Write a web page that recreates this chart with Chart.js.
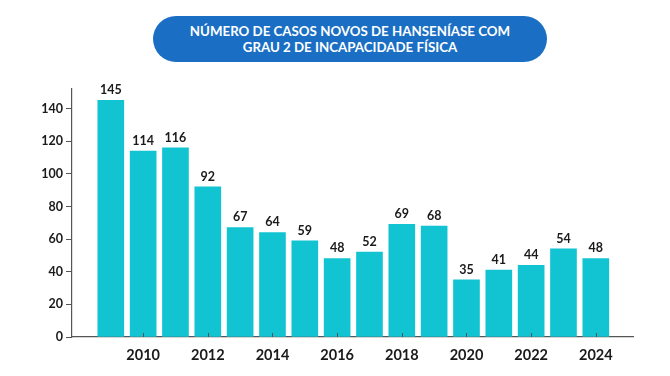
<!DOCTYPE html>
<html>
<head>
<meta charset="utf-8">
<script src="https://cdn.jsdelivr.net/npm/chart.js@4/dist/chart.umd.min.js"></script>
<style>
  html, body { margin: 0; padding: 0; background: #ffffff; }
  #wrap { position: relative; width: 670px; height: 376px; }
  #title {
    position: absolute; left: 153px; top: 16px; width: 394px; height: 46px;
    background: #1a6fc4; border-radius: 23px; color: #ffffff;
    font-family: Lato, "Open Sans", sans-serif; font-weight: 700; font-size: 13.3px;
    line-height: 16px; text-align: center; display: flex; align-items: center; justify-content: center;
  }
  canvas { position: absolute; left: 0; top: 0; }
</style>
</head>
<body>
<div id="wrap">
  <canvas id="c" width="670" height="376"></canvas>
  <div id="title">NÚMERO DE CASOS NOVOS DE HANSENÍASE COM<br>GRAU 2 DE INCAPACIDADE FÍSICA</div>
</div>
<script>
const years = [2009, 2010, 2011, 2012, 2013, 2014, 2015, 2016, 2017, 2018, 2019, 2020, 2021, 2022, 2023, 2024];
const cases = [145, 114, 116, 92, 67, 64, 59, 48, 52, 69, 68, 35, 41, 44, 54, 48];
const xTickYears = [2010, 2012, 2014, 2016, 2018, 2020, 2022, 2024];
const yTicks = [0, 20, 40, 60, 80, 100, 120, 140];

const FONT = 'Lato, "Open Sans", sans-serif';
const BAR = '#12c4d2';
const AXIS = '#555555';

const valueLabels = {
  id: 'valueLabels',
  afterDatasetsDraw(chart) {
    const ctx = chart.ctx;
    const meta = chart.getDatasetMeta(0);
    ctx.save();
    ctx.font = '700 12.5px ' + FONT;
    ctx.fillStyle = '#1a1a1a';
    ctx.textAlign = 'center';
    ctx.textBaseline = 'bottom';
    meta.data.forEach((el, i) => {
      ctx.fillText(String(cases[i]), el.x, el.y - 4);
    });
    ctx.restore();
  }
};

const axisMarks = {
  id: 'axisMarks',
  afterDraw(chart) {
    const ctx = chart.ctx;
    const xs = chart.scales.x;
    const bottom = chart.chartArea.bottom;
    ctx.save();
    ctx.strokeStyle = AXIS;
    ctx.lineWidth = 1;
    xTickYears.forEach(y => {
      const px = Math.round(xs.getPixelForValue(y)) + 0.5;
      ctx.beginPath();
      ctx.moveTo(px, bottom);
      ctx.lineTo(px, bottom - 4);
      ctx.stroke();
    });
    ctx.restore();
  }
};

new Chart(document.getElementById('c'), {
  type: 'bar',
  data: {
    datasets: [{
      data: years.map((y, i) => ({ x: y, y: cases[i] })),
      backgroundColor: BAR,
      borderWidth: 0,
      barThickness: 26
    }]
  },
  options: {
    responsive: false,
    animation: false,
    layout: { padding: { top: 89, right: 37, left: 0, bottom: 0 } },
    plugins: { legend: { display: false }, tooltip: { enabled: false }, title: { display: false } },
    scales: {
      x: {
        type: 'linear',
        min: 2007.8,
        max: 2025.15,
        offset: false,
        afterBuildTicks(scale) { scale.ticks = xTickYears.map(v => ({ value: v })); },
        afterFit(scale) { scale.height = 39; },
        grid: { display: false, drawTicks: false },
        border: { display: true, color: AXIS, width: 1.2 },
        ticks: {
          padding: 10,
          color: '#1a1a1a',
          font: { family: FONT, weight: '700', size: 14.5 },
          callback: v => String(v),
          maxRotation: 0,
          autoSkip: false
        }
      },
      y: {
        min: 0,
        max: 152,
        afterBuildTicks(scale) { scale.ticks = yTicks.map(v => ({ value: v })); },
        afterFit(scale) { scale.width = 72; },
        grid: { display: true, drawOnChartArea: false, drawTicks: true, tickLength: 6, color: AXIS },
        border: { display: true, color: AXIS, width: 1.2 },
        ticks: {
          padding: 3,
          color: '#1a1a1a',
          font: { family: FONT, weight: '700', size: 12.5 }
        }
      }
    }
  },
  plugins: [valueLabels, axisMarks]
});
</script>
</body>
</html>
